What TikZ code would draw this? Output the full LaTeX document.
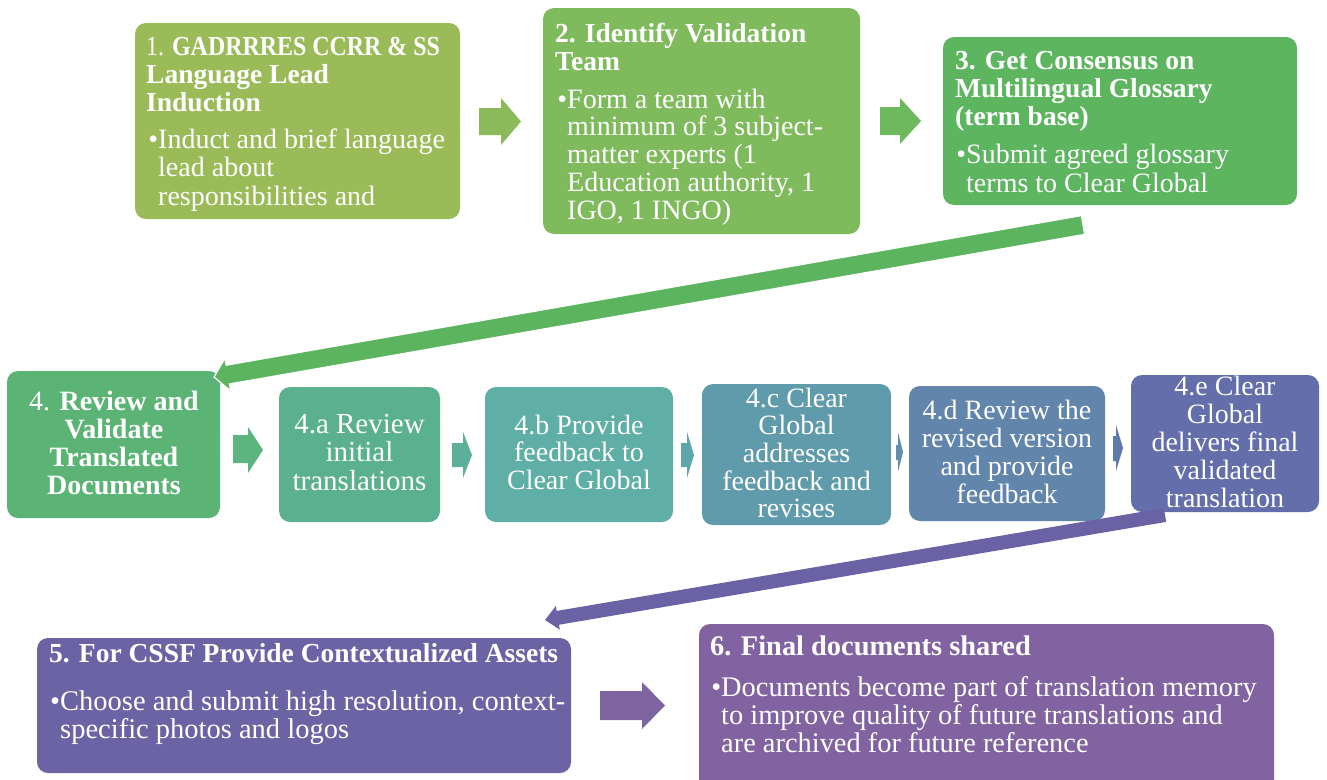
\documentclass[tikz,border=0pt]{standalone}
\usepackage{fontspec}
\setmainfont{Liberation Serif}
\usetikzlibrary{calc}
\definecolor{cb1}{HTML}{9BBB59}
\definecolor{cb2}{HTML}{7FBA5C}
\definecolor{cb3}{HTML}{5EB560}
\definecolor{cb4}{HTML}{5BB375}
\definecolor{cb4a}{HTML}{5BB08F}
\definecolor{cb4b}{HTML}{5FAFA6}
\definecolor{cb4c}{HTML}{5F9BAA}
\definecolor{cb4d}{HTML}{6185AB}
\definecolor{cb4e}{HTML}{636EAA}
\definecolor{cb5}{HTML}{6C63A5}
\definecolor{cb6}{HTML}{8063A0}
\definecolor{ca1}{HTML}{8CBA5B}
\definecolor{ca2}{HTML}{6EB85D}
\definecolor{ca3}{HTML}{5CB47E}
\definecolor{ca4}{HTML}{5CB09A}
\definecolor{ca5}{HTML}{5FA6A8}
\definecolor{ca6}{HTML}{6090AA}
\definecolor{ca7}{HTML}{627AAB}
\definecolor{ca8}{HTML}{7E64A1}
\definecolor{cg1}{HTML}{5CB55E}
\definecolor{cg2}{HTML}{6B62A6}
\begin{document}
\begin{tikzpicture}[x=1pt,y=-1pt,
  box/.style={rounded corners=11pt, inner sep=0pt, draw=none},
  lt/.style={anchor=base west, inner sep=0pt, text=white},
  ct/.style={anchor=base, inner sep=0pt, text=white},
  blk/.style={draw=none}]
\clip (0,0) rectangle (1327,779);
% boxes
\node[box, fill=cb1, minimum width=325pt, minimum height=196pt] (b1) at (297.5,121) {};
\node[box, fill=cb2, minimum width=317pt, minimum height=226pt] (b2) at (701.5,121) {};
\node[box, fill=cb3, minimum width=354pt, minimum height=168pt] (b3) at (1120,121) {};
\node[box, fill=cb4, minimum width=213pt, minimum height=147pt] (b4) at (113.5,444.5) {};
\node[box, fill=cb4a, minimum width=161pt, minimum height=135pt] (b4a) at (359.5,454.5) {};
\node[box, fill=cb4b, minimum width=188pt, minimum height=135pt] (b4b) at (579,454.5) {};
\node[box, fill=cb4c, minimum width=189pt, minimum height=141pt] (b4c) at (796.5,454.5) {};
\node[box, fill=cb4d, minimum width=196pt, minimum height=135pt] (b4d) at (1007,453.5) {};
\node[box, fill=cb4e, minimum width=188pt, minimum height=137pt] (b4e) at (1225,443.5) {};
\node[box, fill=cb5, minimum width=534pt, minimum height=135pt] (b5) at (304,705.5) {};
\node[box, fill=cb6, minimum width=575pt, minimum height=176pt] (b6) at (986.5,712) {};
% block arrows
\fill[ca1] (479,108) -- (501,108) -- (501,98) -- (521,121.5) -- (501,145) -- (501,135) -- (479,135) -- cycle;
\fill[ca2] (880,107) -- (900,107) -- (900,98) -- (921,121) -- (900,144) -- (900,135) -- (880,135) -- cycle;
\fill[ca3] (233,435) -- (248,435) -- (248,427) -- (263,450) -- (248,473) -- (248,463) -- (233,463) -- cycle;
\fill[ca4] (452,443) -- (463,443) -- (463,432) -- (472,455) -- (463,478) -- (463,467) -- (452,467) -- cycle;
\fill[ca5] (681,443) -- (687,443) -- (687,432) -- (694,455) -- (687,478) -- (687,467) -- (681,467) -- cycle;
\fill[ca6] (896,445) -- (898,445) -- (898,432) -- (903,452) -- (898,472) -- (898,460) -- (896,460) -- cycle;
\fill[ca7] (1113,436) -- (1116,436) -- (1116,425) -- (1123,448) -- (1116,471) -- (1116,461) -- (1113,461) -- cycle;
\fill[ca8] (600,691) -- (642,691) -- (642,682) -- (665,705.5) -- (642,729) -- (642,720) -- (600,720) -- cycle;
% big arrows
\coordinate (g1s) at (1083,225);
\coordinate (g1t) at (214,377);
\coordinate (g1b) at ($(g1t)!14pt!(g1s)$);
\filldraw[fill=cg1, draw=white, line width=1.2pt]
  ($(g1s)!9.5pt!90:(g1t)$) -- ($(g1b)!9.5pt!90:(g1t)$) -- ($(g1b)!16.5pt!90:(g1t)$) -- (g1t)
  -- ($(g1b)!16.5pt!-90:(g1t)$) -- ($(g1b)!9.5pt!-90:(g1t)$) -- ($(g1s)!9.5pt!-90:(g1t)$) -- cycle;
\coordinate (g2s) at (1165,515);
\coordinate (g2t) at (545,620);
\coordinate (g2b) at ($(g2t)!13pt!(g2s)$);
\fill[cg2]
  ($(g2s)!7pt!90:(g2t)$) -- ($(g2b)!7pt!90:(g2t)$) -- ($(g2b)!12pt!90:(g2t)$) -- (g2t)
  -- ($(g2b)!12pt!-90:(g2t)$) -- ($(g2b)!7pt!-90:(g2t)$) -- ($(g2s)!7pt!-90:(g2t)$) -- cycle;
% texts
\node[lt, font=\fontsize{27.5}{28}\selectfont\bfseries] (t1) at (146,55)
  {\begin{tabular}[t]{@{}l@{}}\scalebox{0.87}[1]{{\mdseries 1. }GADRRRES CCRR \& SS}\\ Language Lead\\ Induction\end{tabular}};
\node[lt, font=\fontsize{28}{28.5}\selectfont] (t1b) at (158,148)
  {\begin{tabular}[t]{@{}l@{}}\llap{\textbullet}Induct and brief language\\ lead about\\ responsibilities and\end{tabular}};
\node[lt, font=\fontsize{27.5}{28}\selectfont\bfseries] (t2) at (555,42)
  {\begin{tabular}[t]{@{}l@{}}2. Identify Validation\\ Team\end{tabular}};
\node[lt, font=\fontsize{28}{27.5}\selectfont] (t2b) at (567,108)
  {\begin{tabular}[t]{@{}l@{}}\llap{\textbullet}Form a team with\\ minimum of 3 subject-\\ matter experts (1\\ Education authority, 1\\ IGO, 1 INGO)\end{tabular}};
\node[lt, font=\fontsize{27.5}{28}\selectfont\bfseries] (t3) at (955,69)
  {\begin{tabular}[t]{@{}l@{}}3. Get Consensus on\\ Multilingual Glossary\\ (term base)\end{tabular}};
\node[lt, font=\fontsize{28}{29}\selectfont] (t3b) at (966,163)
  {\begin{tabular}[t]{@{}l@{}}\llap{\textbullet}Submit agreed glossary\\ terms to Clear Global\end{tabular}};
\node[ct, font=\fontsize{28}{28}\selectfont\bfseries] (t4) at (114,410)
  {\begin{tabular}[t]{@{}c@{}}{\mdseries 4. }Review and\\ Validate\\ Translated\\ Documents\end{tabular}};
\node[ct, font=\fontsize{29}{28}\selectfont] (t4a) at (359.5,433)
  {\begin{tabular}[t]{@{}c@{}}4.a Review\\ initial\\ translations\end{tabular}};
\node[ct, font=\fontsize{28}{27.5}\selectfont] (t4b) at (579,434)
  {\begin{tabular}[t]{@{}c@{}}4.b Provide\\ feedback to\\ Clear Global\end{tabular}};
\node[ct, font=\fontsize{28}{27.5}\selectfont] (t4c) at (796.5,407)
  {\begin{tabular}[t]{@{}c@{}}4.c Clear\\ Global\\ addresses\\ feedback and\\ revises\end{tabular}};
\node[ct, font=\fontsize{28}{28}\selectfont] (t4d) at (1007,419)
  {\begin{tabular}[t]{@{}c@{}}4.d Review the\\ revised version\\ and provide\\ feedback\end{tabular}};
\node[ct, font=\fontsize{28}{28}\selectfont] (t4e) at (1225,395)
  {\begin{tabular}[t]{@{}c@{}}4.e Clear\\ Global\\ delivers final\\ validated\\ translation\end{tabular}};
\node[lt, font=\fontsize{27.5}{28}\selectfont\bfseries] (t5) at (49,662)
  {5. For CSSF Provide Contextualized Assets};
\node[lt, font=\fontsize{28.5}{27}\selectfont] (t5b) at (60,710)
  {\begin{tabular}[t]{@{}l@{}}\llap{\textbullet}Choose and submit high resolution, context-\\ specific photos and logos\end{tabular}};
\node[lt, font=\fontsize{28.4}{28}\selectfont\bfseries] (t6) at (710,655)
  {6. Final documents shared};
\node[lt, font=\fontsize{28.4}{28}\selectfont] (t6b) at (721,696)
  {\begin{tabular}[t]{@{}l@{}}\llap{\textbullet}Documents become part of translation memory\\ to improve quality of future translations and\\ are archived for future reference\end{tabular}};
\end{tikzpicture}
\end{document}
